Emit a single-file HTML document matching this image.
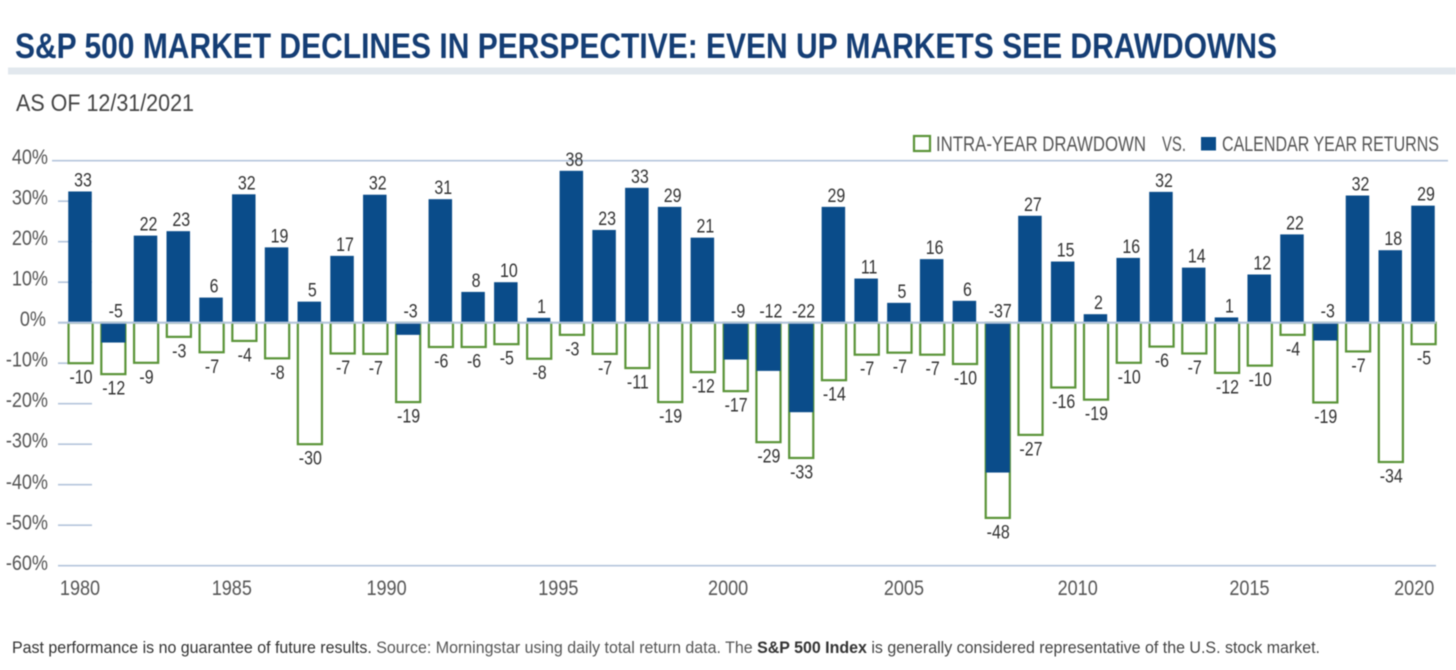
<!DOCTYPE html>
<html lang="en">
<head>
<meta charset="utf-8">
<title>S&amp;P 500 Market Declines in Perspective</title>
<style>
html,body{margin:0;padding:0;background:#fff;width:1456px;height:670px;overflow:hidden}
svg{display:block;filter:blur(0.45px)}
text{font-family:"Liberation Sans",sans-serif}
</style>
</head>
<body>
<svg id="chart" xmlns="http://www.w3.org/2000/svg" width="1456" height="670" viewBox="0 0 1456 670">
  <rect x="0" y="0" width="1456" height="670" fill="#fff"/>
  <text x="15" y="58" font-size="35" font-weight="bold" fill="#153e75" textLength="1262" lengthAdjust="spacingAndGlyphs">S&amp;P 500 MARKET DECLINES IN PERSPECTIVE: EVEN UP MARKETS SEE DRAWDOWNS</text>
  <rect x="8" y="67.5" width="1448" height="7" fill="#e2e8ee"/>
  <text x="16" y="111" font-size="24.5" fill="#444" textLength="178" lengthAdjust="spacingAndGlyphs">AS OF 12/31/2021</text>

  <g id="grid"></g>
  <g id="marks"></g>
  <g id="labels"></g>
  <g id="axes"></g>

  <g>
    <rect x="914" y="136" width="16" height="15" fill="#fff" stroke="#5a9438" stroke-width="2.2"/>
    <text x="936" y="151" font-size="21" fill="#555" textLength="210" lengthAdjust="spacingAndGlyphs">INTRA-YEAR DRAWDOWN</text>
    <text x="1162" y="151" font-size="21" fill="#555" textLength="24" lengthAdjust="spacingAndGlyphs">VS.</text>
    <rect x="1201" y="137" width="15" height="13.5" fill="#0a4c8a"/>
    <text x="1222" y="151" font-size="21" fill="#555" textLength="217" lengthAdjust="spacingAndGlyphs">CALENDAR YEAR RETURNS</text>
  </g>

  <text x="12" y="653" font-size="16.5" fill="#333" textLength="1308" lengthAdjust="spacingAndGlyphs">Past performance is no guarantee of future results. <tspan fill="#555">Source: Morningstar using daily total return data. The </tspan><tspan font-weight="bold" fill="#333">S&amp;P 500 Index</tspan><tspan fill="#444"> is generally considered representative of the U.S. stock market.</tspan></text>
</svg>

<script>
const years = [1980,1981,1982,1983,1984,1985,1986,1987,1988,1989,1990,1991,1992,1993,1994,1995,1996,1997,1998,1999,2000,2001,2002,2003,2004,2005,2006,2007,2008,2009,2010,2011,2012,2013,2014,2015,2016,2017,2018,2019,2020,2021];
const calendarReturns = [32.4,-4.9,21.5,22.6,6.2,31.7,18.6,5.2,16.5,31.6,-3,30.5,7.6,10,1.2,37.5,22.9,33.3,28.6,21,-9.1,-11.9,-22.1,28.6,10.9,4.9,15.7,5.4,-37,26.4,15.1,2.1,16,32.3,13.6,1.3,11.9,21.8,-4.4,31.4,17.9,28.9];
const intraYearDrawdowns = [-10,-12.7,-9.9,-3.5,-7.3,-4.5,-8.8,-30,-7.6,-7.7,-19.6,-6,-6,-5.3,-8.9,-3,-7.7,-11.2,-19.6,-12.2,-16.9,-29.5,-33.4,-14.2,-7.9,-7.4,-7.9,-10.2,-48.2,-27.7,-16,-19,-9.9,-5.9,-7.6,-12.4,-10.6,-3,-19.7,-7.1,-34.4,-5.3];
const returnLabels = [33,-5,22,23,6,32,19,5,17,32,-3,31,8,10,1,38,23,33,29,21,-9,-12,-22,29,11,5,16,6,-37,27,15,2,16,32,14,1,12,22,-3,32,18,29];
const drawdownLabels = [-10,-12,-9,-3,-7,-4,-8,-30,-7,-7,-19,-6,-6,-5,-8,-3,-7,-11,-19,-12,-17,-29,-33,-14,-7,-7,-7,-10,-48,-27,-16,-19,-10,-6,-7,-12,-10,-4,-19,-7,-34,-5];
const yTickValues = [40,30,20,10,0,-10,-20,-30,-40,-50,-60];
const xTickYears = [1980,1985,1990,1995,2000,2005,2010,2015,2020];

const NS = 'http://www.w3.org/2000/svg';
const xScale = i => 80 + i * (1423 - 80) / (years.length - 1);
const yScale = v => 322.7 - v * 4.05;

function make(tag, parent, attrs) {
  const el = document.createElementNS(NS, tag);
  for (const k in attrs) el.setAttribute(k, attrs[k]);
  parent.appendChild(el);
  return el;
}
function squeeze(t, factor) {
  t.setAttribute('textLength', (t.getComputedTextLength() * factor).toFixed(2));
  t.setAttribute('lengthAdjust', 'spacingAndGlyphs');
}

const grid = document.getElementById('grid');
const marks = document.getElementById('marks');
const labels = document.getElementById('labels');
const axes = document.getElementById('axes');
const gridColor = '#b4c5dc';

yTickValues.forEach(v => {
  const line = make('line', v === 0 ? axes : grid, {
    x1: v === 40 ? 52 : 58,
    x2: v === 40 ? 1448 : (v === -60 || v === 0 ? 1436 : 92),
    y1: yScale(v), y2: yScale(v),
    stroke: gridColor, 'stroke-width': v === 0 ? 2.2 : 1.6
  });
  
  

  const label = make('text', axes, {
    x: v === 0 ? 46 : 48, y: yScale(v) + 3.5 + (v < -30 ? 1 : 0),
    'font-size': 21, fill: '#555', 'text-anchor': 'end'
  });
  label.textContent = v + '%';
  
  
  squeeze(label, 0.86);
});

years.forEach((year, i) => {
  const cx = xScale(i);
  const bw = 23.5;
  const ret = calendarReturns[i];
  const dd = intraYearDrawdowns[i];

  const ddBar = make('rect', marks, {
    x: cx - bw / 2 + 0.3, y: yScale(0), width: bw + 0.6, height: yScale(dd) - yScale(0),
    fill: '#fff', stroke: '#5a9438', 'stroke-width': 2.2
  });
  
  

  const top = ret >= 0 ? yScale(ret) : yScale(0);
  const bottom = ret >= 0 ? yScale(0) : yScale(ret);
  const retBar = make('rect', marks, {
    x: cx - bw / 2 + (ret < 0 ? 0.3 : 0), y: top, width: bw + (ret < 0 ? 0.6 : 0), height: bottom - top,
    fill: '#0a4c8a'
  });
  
  

  const retText = make('text', labels, {
    x: cx + 3, y: ret >= 0 ? top - 5 : yScale(0) - 5,
    'font-size': 19, fill: '#333', 'text-anchor': 'middle'
  });
  retText.textContent = returnLabels[i];
  
  
  squeeze(retText, 0.84);

  const ddText = make('text', labels, {
    x: cx + 1, y: yScale(dd) + 20.5,
    'font-size': 19, fill: '#333', 'text-anchor': 'middle'
  });
  ddText.textContent = drawdownLabels[i];
  
  
  squeeze(ddText, 0.84);
});

/* The printed year labels drift away from their bars in the source artwork. */
const yearLabelDrift = { 1985: -12, 1990: -21, 1995: -13, 2000: -7, 2005: 5, 2010: 15, 2015: 23, 2020: 24 };
xTickYears.forEach(year => {
  const t = make('text', axes, {
    x: xScale(years.indexOf(year)) + (yearLabelDrift[year] || 0), y: 595,
    'font-size': 21, fill: '#555', 'text-anchor': 'middle'
  });
  t.textContent = year;
  
  
  squeeze(t, 0.86);
});
</script>
</body>
</html>
